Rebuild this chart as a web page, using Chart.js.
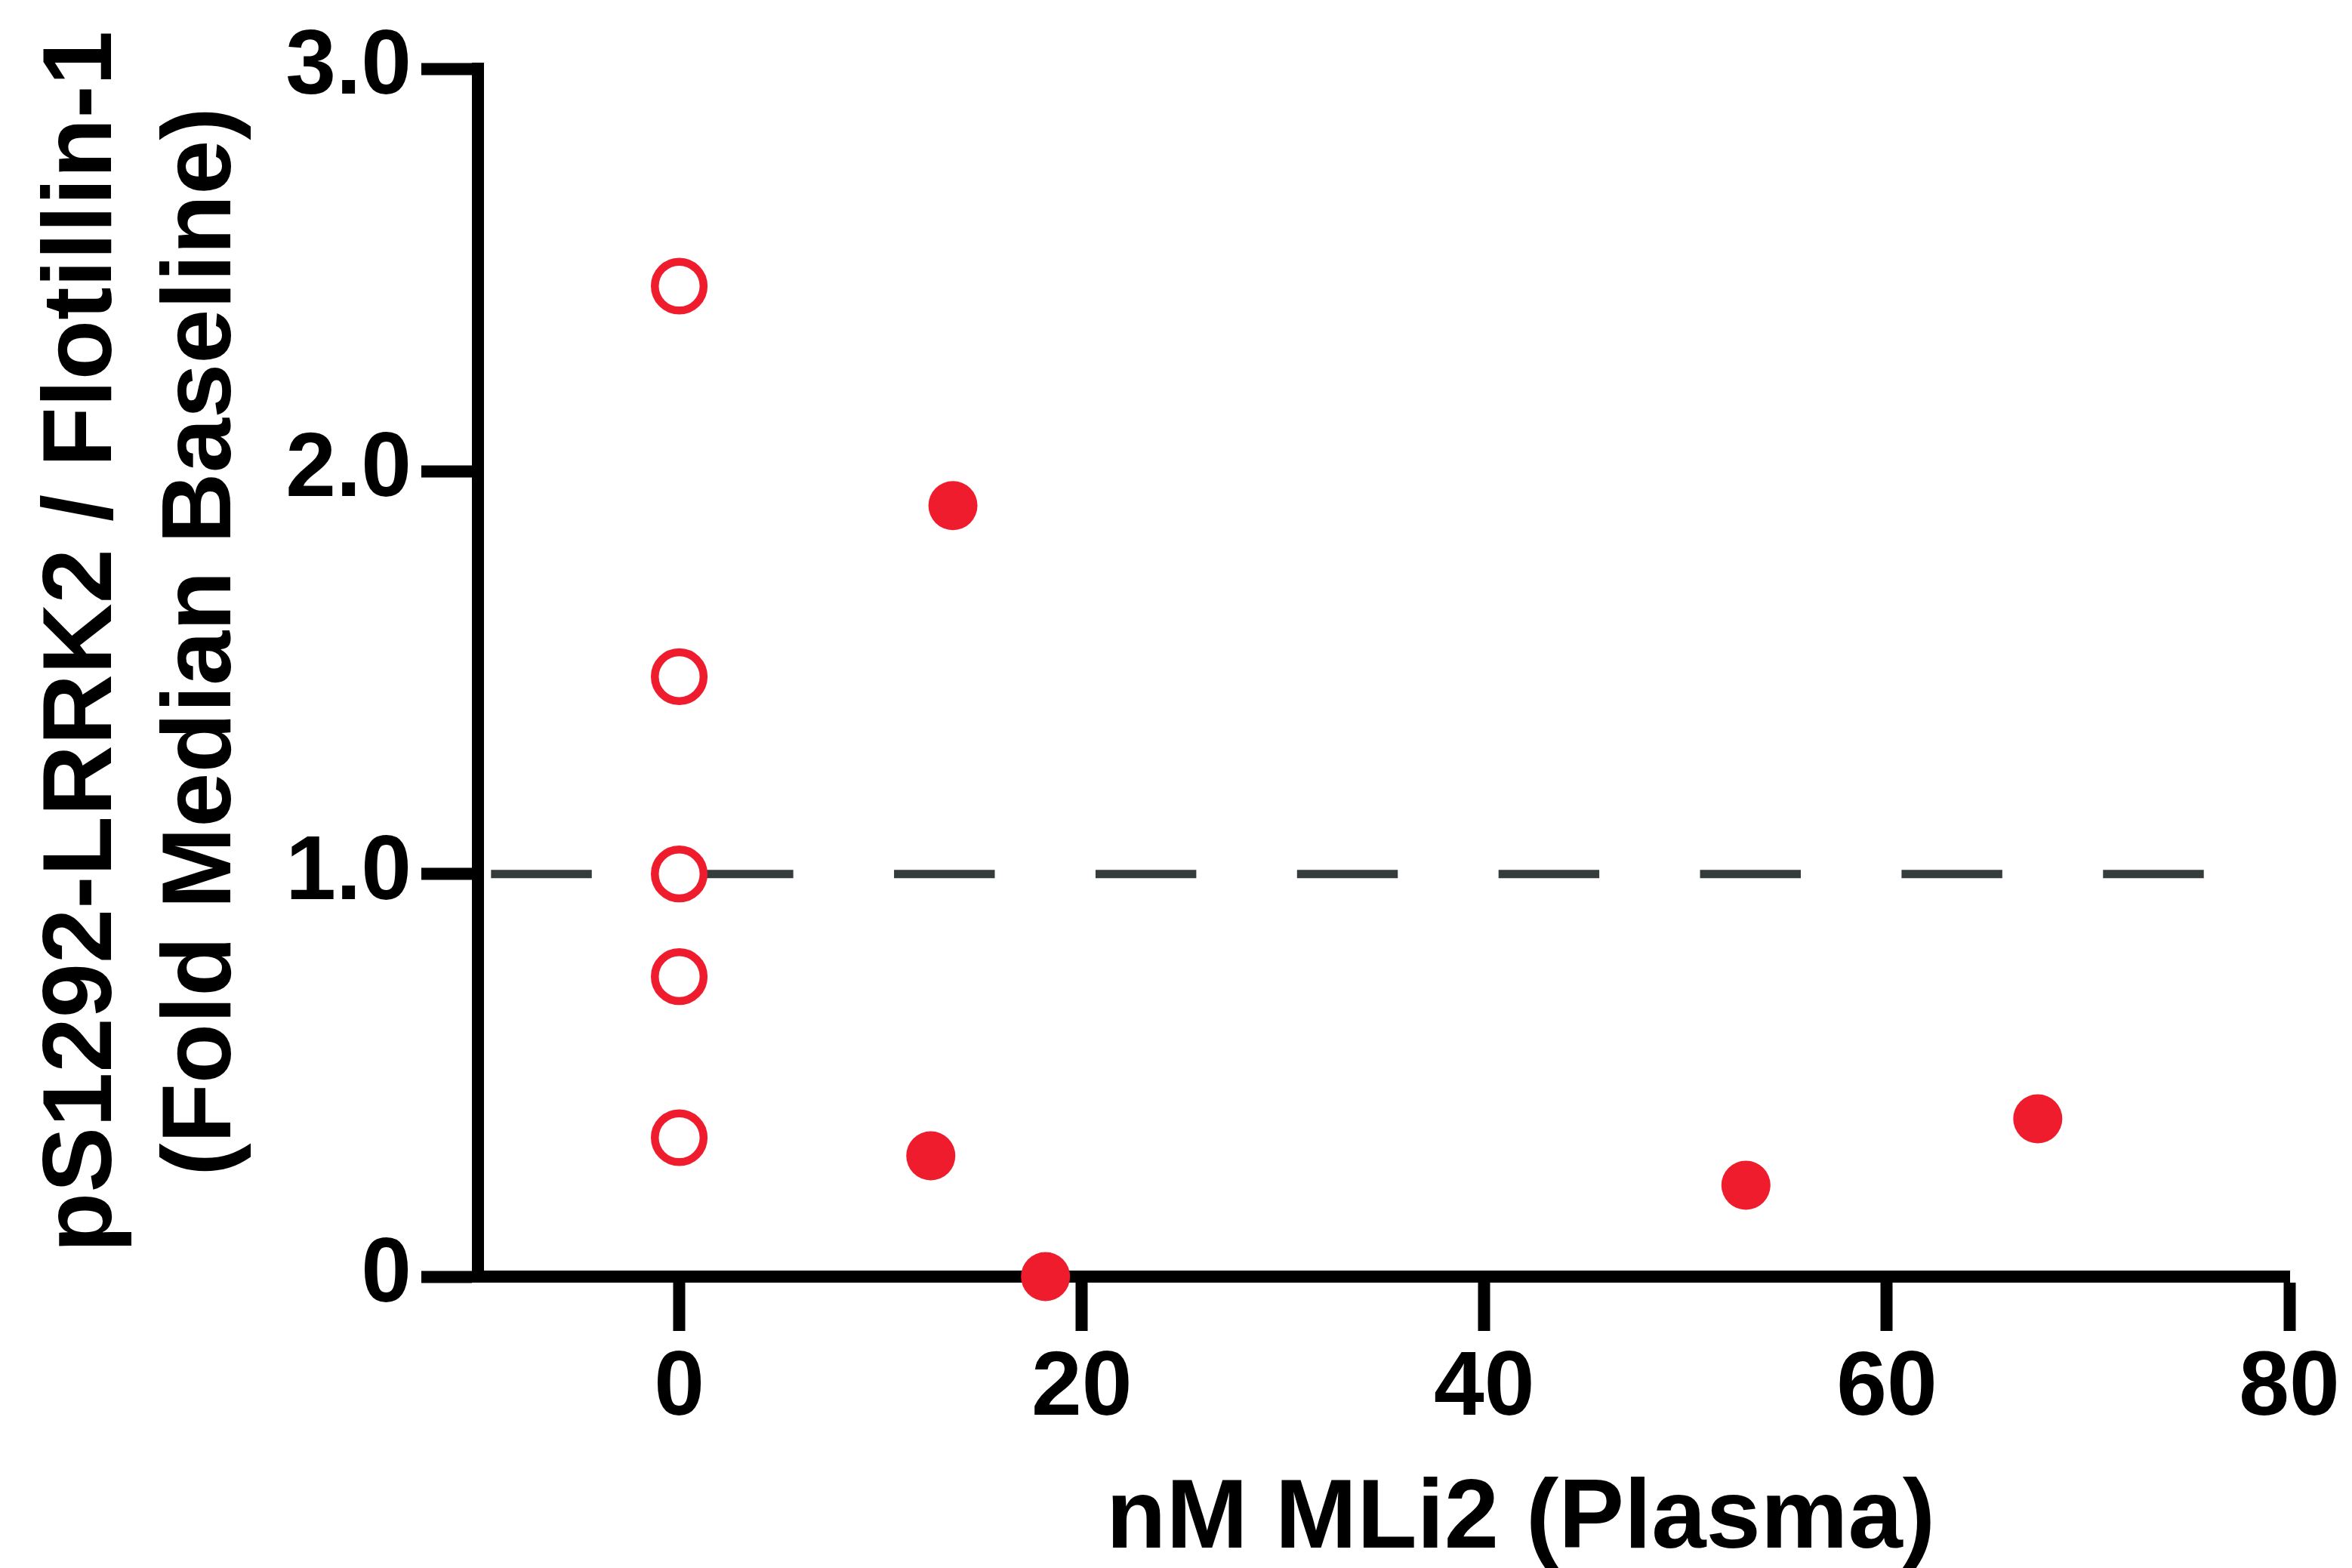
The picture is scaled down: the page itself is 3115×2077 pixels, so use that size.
<!DOCTYPE html>
<html>
<head>
<meta charset="utf-8">
<title>pS1292-LRRK2 vs plasma MLi2</title>
<script src="https://cdn.jsdelivr.net/npm/chart.js@4.4.1/dist/chart.umd.min.js"></script>
<style>
  html, body { margin: 0; padding: 0; background: #fff; overflow: hidden; }
  #wrap { width: 3115px; height: 2077px; position: relative; }
</style>
</head>
<body>
<div id="wrap"><canvas id="plasmaChart"></canvas></div>
<script>
// Vehicle animals (no MLi2 in plasma), fold of median baseline
const vehicleConc = [0, 0, 0, 0, 0];
const vehicleRatio = [2.46, 1.49, 1.0, 0.745, 0.345];

// MLi2 dosed animals
const mli2Conc = [12.5, 13.6, 18.2, 53.0, 67.5];
const mli2Ratio = [0.30, 1.915, 0.0, 0.227, 0.392];

// Axis ticks
const xTicks = [0, 20, 40, 60, 80];
const yTicks = [0, 1, 2, 3];
const yTickLabels = ['0', '1.0', '2.0', '3.0'];

// Dashed baseline at fold = 1.0 and its x extent
const baselineValue = 1.0;
const baselineFrom = -9.35;
const baselineTo = 75.75;

const xTitle = 'nM MLi2 (Plasma)';
const yTitle = ['pS1292-LRRK2 / Flotillin-1', '(Fold Median Baseline)'];

const red = '#EE1C2C';
const fontFamily = '"Liberation Sans", Arial, sans-serif';

// dashed reference line, drawn under the points
const baselinePlugin = {
    id: 'baseline',
    beforeDatasetsDraw(chart) {
        const { ctx, scales: { x, y } } = chart;
        const x1 = x.getPixelForValue(baselineFrom);
        const x2 = x.getPixelForValue(baselineTo);
        const yy = y.getPixelForValue(baselineValue);
        const dash = (x2 - x1) / 17; // 9 dashes + 8 gaps
        ctx.save();
        ctx.strokeStyle = '#343d3b';
        ctx.lineWidth = 11;
        ctx.setLineDash([dash, dash]);
        ctx.beginPath();
        ctx.moveTo(x1, yy);
        ctx.lineTo(x2, yy);
        ctx.stroke();
        ctx.restore();
    }
};

// axis titles (two-line y title)
const titlesPlugin = {
    id: 'axisTitles',
    afterDraw(chart) {
        const { ctx } = chart;
        ctx.save();
        ctx.fillStyle = '#000';
        ctx.font = 'bold 130px ' + fontFamily;
        ctx.textAlign = 'center';
        ctx.textBaseline = 'alphabetic';
        ctx.fillText(xTitle, 2014, 2050);
        ctx.translate(0, 850);
        ctx.rotate(-Math.PI / 2);
        ctx.fillText(yTitle[0], 0, 147);
        ctx.fillText(yTitle[1], 0, 305);
        ctx.restore();
    }
};

const tickFont = { family: fontFamily, size: 120, weight: 'bold', lineHeight: 1.2 };

new Chart(document.getElementById('plasmaChart'), {
    type: 'scatter',
    data: {
        datasets: [
            {
                label: 'Vehicle',
                data: vehicleConc.map((x, i) => ({ x: x, y: vehicleRatio[i] })),
                pointStyle: 'circle',
                pointRadius: 32.3,
                pointBorderWidth: 10.5,
                pointBorderColor: red,
                pointBackgroundColor: '#fff',
                clip: false,
            },
            {
                label: 'MLi2',
                data: mli2Conc.map((x, i) => ({ x: x, y: mli2Ratio[i] })),
                pointStyle: 'circle',
                pointRadius: 32.5,
                pointBorderWidth: 0,
                pointBorderColor: red,
                pointBackgroundColor: red,
                clip: false,
            },
        ],
    },
    options: {
        responsive: true,
        maintainAspectRatio: false,
        animation: false,
        devicePixelRatio: 1,
        events: [],
        layout: { padding: { top: 91, right: 83, bottom: 0, left: 0 } },
        plugins: {
            legend: { display: false },
            tooltip: { enabled: false },
        },
        scales: {
            x: {
                type: 'linear',
                min: -10,
                max: 80,
                afterBuildTicks: (scale) => { scale.ticks = xTicks.map(v => ({ value: v })); },
                afterFit: (scale) => { scale.height = 386; },
                grid: { drawOnChartArea: false, drawTicks: true, tickLength: 72, tickWidth: 16, tickColor: '#000' },
                border: { display: true, width: 16, color: '#000' },
                ticks: { color: '#000', font: tickFont, padding: 6, maxRotation: 0, autoSkip: false },
            },
            y: {
                type: 'linear',
                min: 0,
                max: 3,
                afterBuildTicks: (scale) => { scale.ticks = yTicks.map(v => ({ value: v })); },
                afterFit: (scale) => { scale.width = 633; },
                grid: { drawOnChartArea: false, drawTicks: true, tickLength: 75, tickWidth: 16, tickColor: '#000' },
                border: { display: true, width: 16, color: '#000' },
                ticks: {
                    color: '#000',
                    font: tickFont,
                    padding: 13,
                    autoSkip: false,
                    callback: (value) => yTickLabels[yTicks.indexOf(value)],
                },
            },
        },
    },
    plugins: [baselinePlugin, titlesPlugin],
});
</script>
</body>
</html>
